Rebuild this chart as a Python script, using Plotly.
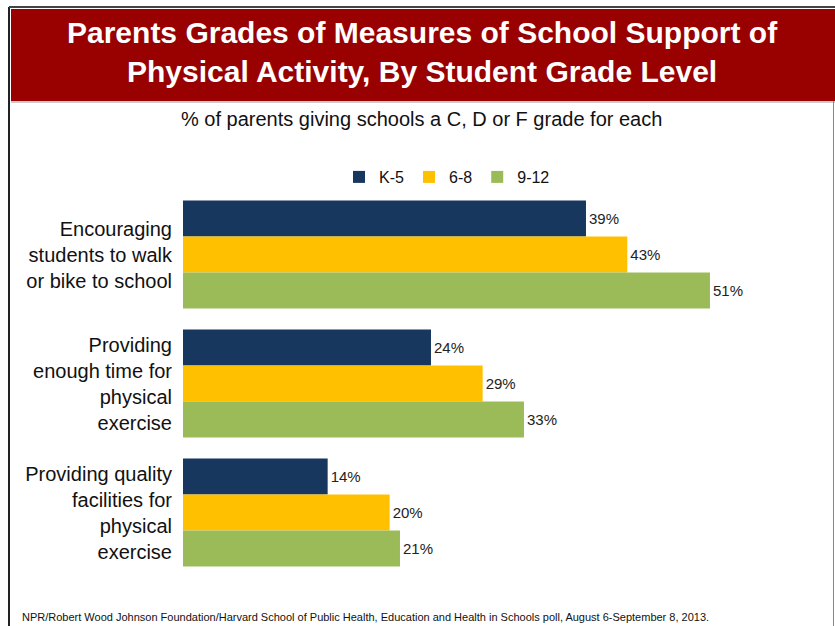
import plotly.graph_objects as go

categories = [
    "Encouraging<br>students to walk<br>or bike to school",
    "Providing<br>enough time for<br>physical<br>exercise",
    "Providing quality<br>facilities for<br>physical<br>exercise",
]
series_names = ["K-5", "6-8", "9-12"]
k5 = [39, 24, 14]
g6_8 = [43, 29, 20]
g9_12 = [51, 33, 21]
colors = ["#17375E", "#FFC000", "#9BBB59"]

W, H = 835, 626
L, R, T, B = 183, 0, 190, 49
PW, PH = W - L - R, H - T - B


def px_x(x):
    return (x - L) / PW


def px_y(y):
    return (H - B - y) / PH


fig = go.Figure()
for name, vals, col in zip(series_names, [k5, g6_8, g9_12], colors):
    fig.add_trace(go.Bar(
        y=categories, x=vals, name=name, orientation="h",
        marker=dict(color=col, line=dict(width=0)),
        text=[f"{v}%" for v in vals], textposition="outside",
        textfont=dict(size=15, color="#222222", family="Liberation Sans, Arial"),
        cliponaxis=False,
    ))

fig.update_layout(
    width=W, height=H,
    margin=dict(l=L, r=R, t=T, b=B, autoexpand=False),
    paper_bgcolor="white", plot_bgcolor="white",
    barmode="group", bargap=0.163, bargroupgap=0,
    font=dict(family="Liberation Sans, Arial", color="#111111"),
    showlegend=True,
    legend=dict(orientation="h", x=px_x(447), xanchor="center",
                y=px_y(177), yanchor="middle", font=dict(size=16),
                itemwidth=30, traceorder="normal",
                bgcolor="rgba(0,0,0,0)"),
    xaxis=dict(range=[0, 63.1], visible=False),
    yaxis=dict(autorange="reversed", showgrid=False, showline=False,
               ticks="", tickfont=dict(size=20, color="#111111"),
               ticklabelstandoff=10, automargin=False),
    shapes=[
        # outer frame lines
        dict(type="line", xref="paper", yref="paper",
             x0=px_x(9), x1=px_x(9), y0=px_y(7), y1=px_y(626),
             line=dict(color="#222222", width=2)),
        dict(type="line", xref="paper", yref="paper",
             x0=px_x(9), x1=px_x(835), y0=px_y(7), y1=px_y(7),
             line=dict(color="#444444", width=2)),
        dict(type="line", xref="paper", yref="paper",
             x0=px_x(833.5), x1=px_x(833.5), y0=px_y(101), y1=px_y(626),
             line=dict(color="#888888", width=1)),
        # title banner
        dict(type="rect", xref="paper", yref="paper",
             x0=px_x(11), x1=px_x(835), y0=px_y(9), y1=px_y(101),
             fillcolor="#990000", line=dict(width=0), layer="below"),
        dict(type="line", xref="paper", yref="paper",
             x0=px_x(11), x1=px_x(835), y0=px_y(102), y1=px_y(102),
             line=dict(color="#999999", width=1)),
    ],
    annotations=[
        dict(text="<b>Parents Grades of Measures of School Support of<br>Physical Activity, By Student Grade Level</b>",
             xref="paper", yref="paper", x=px_x(422), y=px_y(52),
             xanchor="center", yanchor="middle", showarrow=False,
             font=dict(size=30, color="white", family="Liberation Sans, Arial")),
        dict(text="% of parents giving schools a C, D or F grade for each",
             xref="paper", yref="paper", x=px_x(421), y=px_y(119),
             xanchor="center", yanchor="middle", showarrow=False,
             font=dict(size=20, color="#111111")),
        dict(text="NPR/Robert Wood Johnson Foundation/Harvard School of Public Health, Education and Health in Schools poll, August 6-September 8, 2013.",
             xref="paper", yref="paper", x=px_x(20), y=px_y(617),
             xanchor="left", yanchor="middle", showarrow=False,
             font=dict(size=11, color="#111111")),
    ],
)

fig.write_html("out.html", config={"displayModeBar": False},
               post_script="document.body.style.margin='0';")
